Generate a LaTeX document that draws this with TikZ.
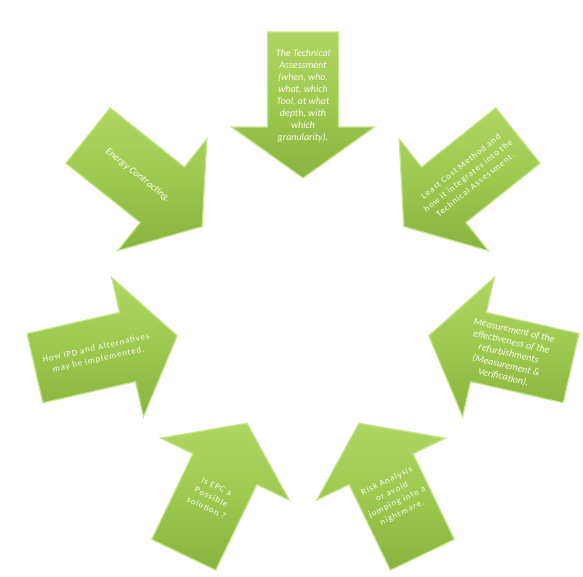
\documentclass[tikz,border=0pt]{standalone}
\usepackage{fontspec}
\setmainfont{Carlito}
\usetikzlibrary{calc}
\definecolor{gLight}{HTML}{AFD763}
\definecolor{gMid}{HTML}{9CC94F}
\definecolor{gDark}{HTML}{88B33F}
\definecolor{gRim}{HTML}{C8E58E}
\definecolor{gShade}{HTML}{7FA838}
\definecolor{txt}{HTML}{FBFDEB}
\tikzset{
  arrowbody/.style={top color=gLight, bottom color=gDark, middle color=gMid, draw=gRim, line width=1.2pt, line join=miter},
  arrowtext/.style={text=txt, font=\fontsize{8.8}{11.7}\selectfont\addfontfeature{LetterSpace=11}, align=center, inner sep=0pt},
}
\begin{document}
\begin{tikzpicture}[x=1pt,y=1pt]
\useasboundingbox (0,0) rectangle (583,576);
\coordinate (C) at (303,269);
\foreach \n/\t in {1/90,2/38.571,3/-12.857,4/-64.286,5/-115.714,6/-167.143,7/141.429} {
  \begin{scope}[shift={(C)},rotate=\t]
    \coordinate (a\n-1) at (275,35.5);
    \coordinate (a\n-2) at (275,-35.5);
    \coordinate (a\n-3) at (180,-35.5);
    \coordinate (a\n-4) at (180,-71.5);
    \coordinate (a\n-5) at (129,0);
    \coordinate (a\n-6) at (180,71.5);
    \coordinate (a\n-7) at (180,35.5);
    \coordinate (p\n) at (211,0);
  \end{scope}
  \shade[arrowbody] (a\n-1) -- (a\n-2) -- (a\n-3) -- (a\n-4) -- (a\n-5) -- (a\n-6) -- (a\n-7) -- cycle;
}
\node[arrowtext, font=\itshape] (t1) at (p1) {The Technical\\Assessment\\(when, who,\\what, which\\Tool, at what\\depth, with\\which\\granularity).};
\node[arrowtext, rotate=38.571] (t2) at (p2) {Least Cost Method and\\how it integrates into the\\Technical Assessment.};
\node[arrowtext, rotate=-12.857, font=\itshape] (t3) at (p3) {Measurement of the\\effectiveness of the\\refurbishments\\(Measurement \&\\Verification).};
\node[arrowtext, rotate=25.714] (t4) at (p4) {Risk Analysis\\or avoid\\jumping into a\\nightmare.};
\node[arrowtext, rotate=-25.714] (t5) at (p5) {Is EPC a\\Possible\\solution ?};
\node[arrowtext, rotate=12.857] (t6) at (p6) {How IPD and Alternatives\\may be implemented.};
\node[arrowtext, rotate=-38.571, font=\itshape] (t7) at (p7) {Energy Contracting.};
\end{tikzpicture}
\end{document}
